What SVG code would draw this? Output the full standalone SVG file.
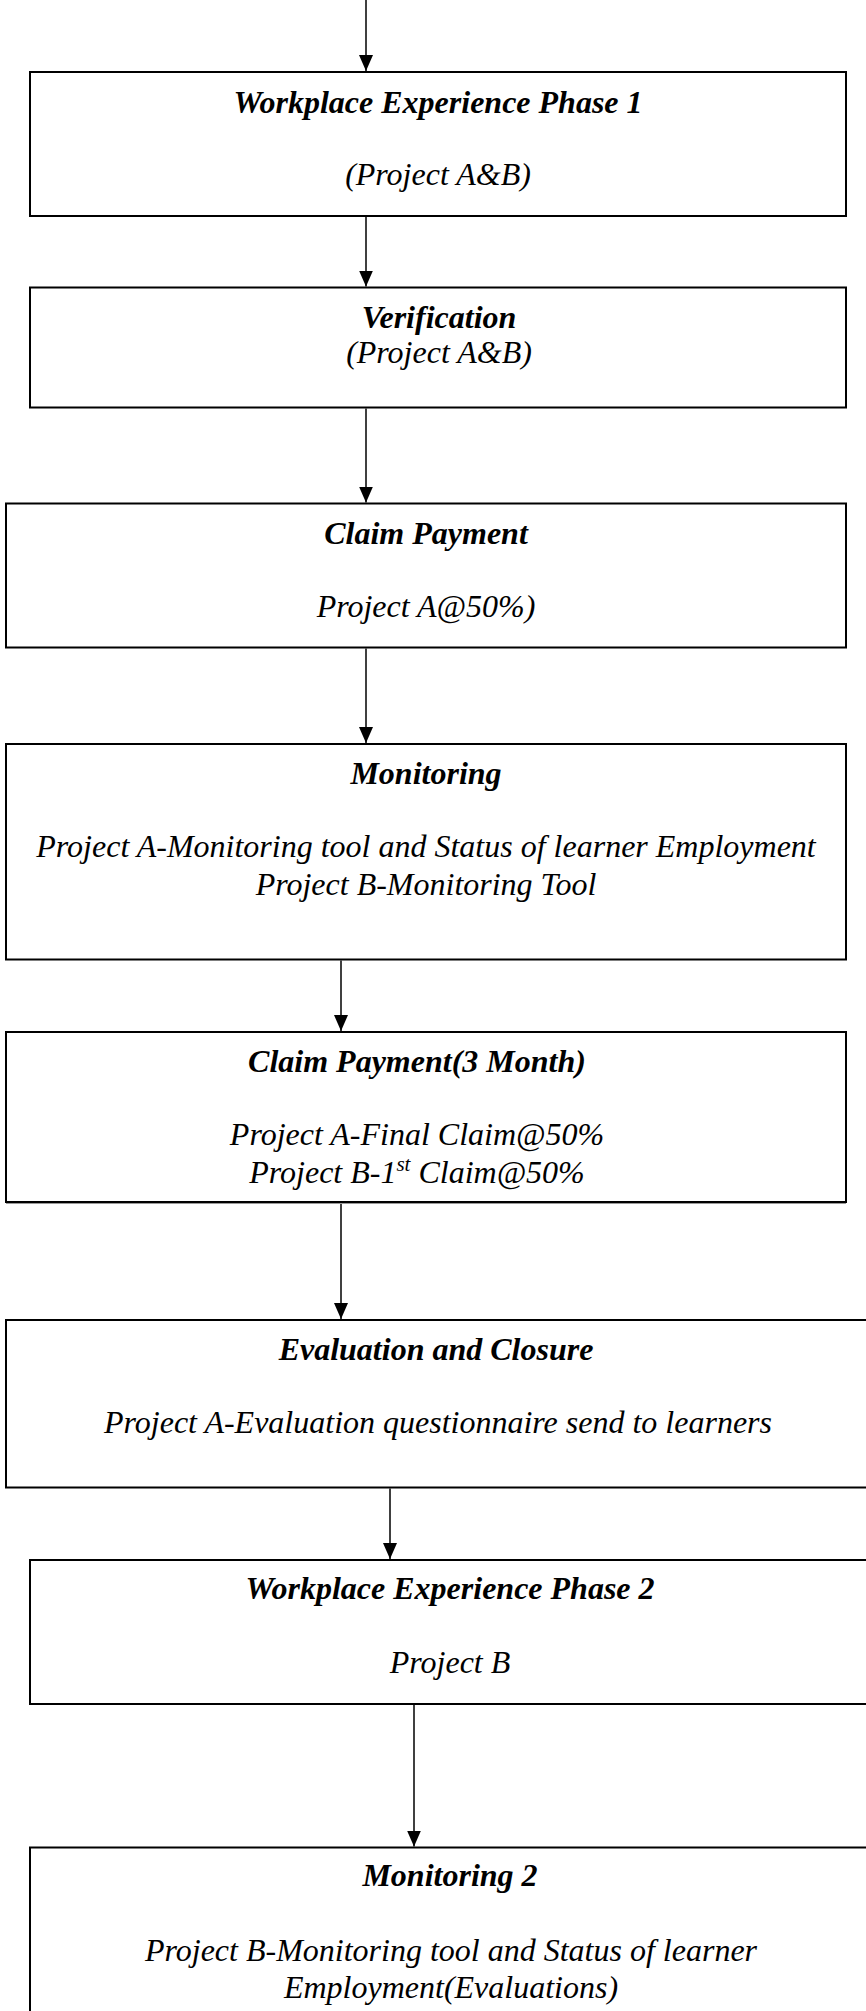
<svg xmlns="http://www.w3.org/2000/svg" width="866" height="2011" viewBox="0 0 866 2011">
<style>
.box{fill:#fff;stroke:#000;stroke-width:2}
.t{font-family:"Liberation Serif","Times New Roman",serif;font-size:32px;font-style:italic;text-anchor:middle;fill:#000}
.b{font-weight:bold}
.c{stroke:#000;stroke-width:1.5;fill:none;marker-end:url(#ah)}
</style>
<defs>
<marker id="ah" markerUnits="userSpaceOnUse" markerWidth="16" markerHeight="14" refX="16" refY="7" orient="auto">
<path d="M0,0 L16,7 L0,14 Z" fill="#000"/>
</marker>
</defs>
<rect width="866" height="2011" fill="#fff"/>
<g id="connectors">
<line class="c" x1="366" y1="0" x2="366" y2="71"/>
<line class="c" x1="366" y1="217" x2="366" y2="286.5"/>
<line class="c" x1="366" y1="408.5" x2="366" y2="502.5"/>
<line class="c" x1="366" y1="648.5" x2="366" y2="743"/>
<line class="c" x1="341" y1="960.5" x2="341" y2="1031"/>
<line class="c" x1="341" y1="1200" x2="341" y2="1319"/>
<line class="c" x1="390" y1="1488.5" x2="390" y2="1559"/>
<line class="c" x1="414" y1="1705" x2="414" y2="1846.5"/>
</g>
<g id="n1">
<rect class="box" x="30" y="72" width="816" height="144"/>
<text class="t b" x="438" y="113">Workplace Experience Phase 1</text>
<text class="t" x="438" y="185">(Project A&amp;B)</text>
</g>
<g id="n2">
<rect class="box" x="30" y="287.5" width="816" height="120"/>
<text class="t b" x="439" y="328">Verification</text>
<text class="t" x="439" y="363">(Project A&amp;B)</text>
</g>
<g id="n3">
<rect class="box" x="6" y="503.5" width="840" height="144"/>
<text class="t b" x="426" y="544">Claim Payment</text>
<text class="t" x="426" y="617">Project A@50%)</text>
</g>
<g id="n4">
<rect class="box" x="6" y="744" width="840" height="215.5"/>
<text class="t b" x="426" y="784">Monitoring</text>
<text class="t" x="426" y="857">Project A-Monitoring tool and Status of learner Employment</text>
<text class="t" x="426" y="894.5">Project B-Monitoring Tool</text>
</g>
<g id="n5">
<rect class="box" x="6" y="1032" width="840" height="170"/>
<line x1="6" y1="1203.5" x2="846" y2="1203.5" stroke="#999" stroke-width="1"/>
<text class="t b" x="417" y="1072">Claim Payment(3 Month)</text>
<text class="t" x="417" y="1145">Project A-Final Claim@50%</text>
<text class="t" x="417" y="1183">Project B-1<tspan font-size="21" dy="-12">st</tspan><tspan dy="12"> Claim@50%</tspan></text>
</g>
<g id="n6">
<rect class="box" x="6" y="1320" width="866" height="167.5"/>
<text class="t b" x="436" y="1360">Evaluation and Closure</text>
<text class="t" x="438" y="1433">Project A-Evaluation questionnaire send to learners</text>
</g>
<g id="n7">
<rect class="box" x="30" y="1560" width="842" height="144"/>
<text class="t b" x="450" y="1599">Workplace Experience Phase 2</text>
<text class="t" x="450" y="1673">Project B</text>
</g>
<g id="n8">
<rect class="box" x="30" y="1847.5" width="842" height="180"/>
<text class="t b" x="450" y="1886">Monitoring 2</text>
<text class="t" x="451" y="1961">Project B-Monitoring tool and Status of learner</text>
<text class="t" x="451" y="1998">Employment(Evaluations)</text>
</g>
</svg>
